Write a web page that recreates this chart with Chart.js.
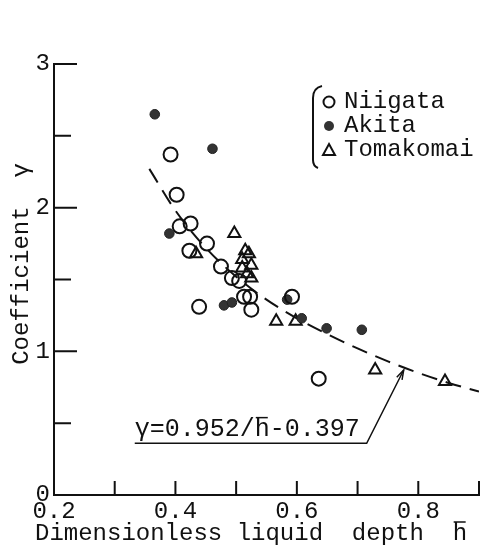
<!DOCTYPE html>
<html>
<head>
<meta charset="utf-8">
<script src="https://cdn.jsdelivr.net/npm/chart.js@4/dist/chart.umd.min.js"></script>
<style>
  html, body { margin: 0; padding: 0; background: #fff; }
</style>
</head>
<body>
<canvas id="chart" width="488" height="548"></canvas>
<script>
// --- data ---------------------------------------------------------------
const niigataH = [0.392, 0.402, 0.407, 0.425, 0.423, 0.452, 0.475, 0.493, 0.505, 0.439, 0.513, 0.523, 0.525, 0.592, 0.636];
const niigataG = [2.37, 2.09, 1.87, 1.89, 1.70, 1.75, 1.59, 1.51, 1.49, 1.31, 1.38, 1.38, 1.29, 1.38, 0.81];

const akitaH = [0.366, 0.461, 0.390, 0.480, 0.493, 0.584, 0.608, 0.649, 0.707];
const akitaG = [2.65, 2.41, 1.82, 1.32, 1.34, 1.36, 1.23, 1.16, 1.15];

const tomakomaiH = [0.497, 0.434, 0.515, 0.521, 0.510, 0.525, 0.510, 0.518, 0.525, 0.566, 0.598, 0.729, 0.844];
const tomakomaiG = [1.82, 1.68, 1.70, 1.68, 1.64, 1.60, 1.58, 1.54, 1.51, 1.21, 1.21, 0.87, 0.79];

// fitted curve  γ = 0.952/h - 0.397, as drawn in the figure
const fitH = [0.357, 0.40, 0.45, 0.50, 0.55, 0.60, 0.65, 0.70, 0.75, 0.80, 0.85, 0.90];
const fitG = [2.27, 1.98, 1.72, 1.52, 1.36, 1.23, 1.12, 1.02, 0.93, 0.85, 0.78, 0.72];

const xTickValues = [0.2, 0.3, 0.4, 0.5, 0.6, 0.7, 0.8, 0.9];
const xTickLabels = ['0.2', '', '0.4', '', '0.6', '', '0.8', ''];
const yTickValues = [0, 0.5, 1, 1.5, 2, 2.5, 3];
const yTickLabels = ['0', '', '1', '', '2', '', '3'];

const legendNames = ['Niigata', 'Akita', 'Tomakomai'];
const fitLabel = 'γ=0.952/h-0.397';
const xTitle = 'Dimensionless liquid  depth  h';
const yTitle = 'Coefficient  γ';

// where the equation note sits (data units)
const noteLeft = 0.333, noteRightH = 0.715, noteLineG = 0.36, noteTextG = 0.455;
const arrowTipH = 0.776, arrowTipG = 0.87;

const INK = '#111';
const FONT = '"Liberation Mono", "DejaVu Sans Mono", monospace';

const pts = (xs, ys) => xs.map((v, i) => ({ x: v, y: ys[i] }));

// ticks pointing into the plot
const inwardTicks = {
  id: 'inwardTicks',
  afterDraw(chart) {
    const { ctx, scales: { x, y } } = chart;
    ctx.save();
    ctx.strokeStyle = INK;
    ctx.lineWidth = 2;
    ctx.beginPath();
    xTickValues.slice(1).forEach((v) => {
      const px = x.getPixelForValue(v);
      ctx.moveTo(px, y.bottom);
      ctx.lineTo(px, y.bottom - 14);
    });
    yTickValues.slice(1).forEach((v) => {
      const py = y.getPixelForValue(v);
      const len = Number.isInteger(v) ? 23 : 17;
      ctx.moveTo(x.left, py);
      ctx.lineTo(x.left + len, py);
    });
    ctx.stroke();
    ctx.restore();
  },
};

// axis titles, legend, equation note
const extras = {
  id: 'extras',
  afterDraw(chart) {
    const { ctx, scales: { x, y } } = chart;
    ctx.save();
    ctx.fillStyle = INK;
    ctx.strokeStyle = INK;
    ctx.font = '24px ' + FONT;
    ctx.textBaseline = 'middle';

    // x title with overbar on h
    ctx.textAlign = 'left';
    const tx = 35, ty = 534;
    ctx.fillText(xTitle, tx, ty);
    const hx = tx + ctx.measureText(xTitle.slice(0, -1)).width;
    ctx.lineWidth = 1.5;
    ctx.beginPath();
    ctx.moveTo(hx + 1, ty - 12);
    ctx.lineTo(hx + 13, ty - 12);
    ctx.stroke();

    // y title
    ctx.save();
    ctx.translate(22, 264);
    ctx.rotate(-Math.PI / 2);
    ctx.textAlign = 'center';
    ctx.fillText(yTitle, 0, 0);
    ctx.restore();

    // legend bracket
    ctx.lineWidth = 2;
    ctx.beginPath();
    ctx.moveTo(322, 86);
    ctx.quadraticCurveTo(313, 88, 313, 98);
    ctx.lineTo(313, 160);
    ctx.quadraticCurveTo(313, 166, 318, 168);
    ctx.stroke();

    const rows = [102, 126, 150];
    // open circle
    ctx.lineWidth = 2;
    ctx.beginPath();
    ctx.arc(329, rows[0], 5.5, 0, Math.PI * 2);
    ctx.stroke();
    // filled circle
    ctx.fillStyle = '#333';
    ctx.beginPath();
    ctx.arc(329, rows[1], 5, 0, Math.PI * 2);
    ctx.fill();
    ctx.fillStyle = INK;
    // triangle
    ctx.beginPath();
    ctx.moveTo(329, rows[2] - 6);
    ctx.lineTo(335, rows[2] + 5);
    ctx.lineTo(323, rows[2] + 5);
    ctx.closePath();
    ctx.stroke();
    ctx.textAlign = 'left';
    legendNames.forEach((n, i) => ctx.fillText(n, 344, rows[i]));

    // equation note
    const nx = x.getPixelForValue(noteLeft);
    const nty = y.getPixelForValue(noteTextG);
    ctx.font = '25px ' + FONT;
    ctx.fillText(fitLabel, nx, nty);
    const ix = nx + ctx.measureText(fitLabel.slice(0, 8)).width;
    ctx.lineWidth = 1.5;
    ctx.beginPath();
    ctx.moveTo(ix + 1, nty - 12);
    ctx.lineTo(ix + 13, nty - 12);
    ctx.stroke();

    const ly = y.getPixelForValue(noteLineG);
    const rx = x.getPixelForValue(noteRightH);
    const ax = x.getPixelForValue(arrowTipH), ay = y.getPixelForValue(arrowTipG);
    ctx.lineWidth = 1.5;
    ctx.beginPath();
    ctx.moveTo(nx, ly);
    ctx.lineTo(rx, ly);
    ctx.lineTo(ax, ay);
    ctx.stroke();
    // arrow head
    const ang = Math.atan2(ay - ly, ax - rx);
    ctx.beginPath();
    ctx.moveTo(ax - 10 * Math.cos(ang - 0.3), ay - 10 * Math.sin(ang - 0.3));
    ctx.lineTo(ax, ay);
    ctx.lineTo(ax - 10 * Math.cos(ang + 0.3), ay - 10 * Math.sin(ang + 0.3));
    ctx.stroke();
    ctx.restore();
  },
};

new Chart(document.getElementById('chart'), {
  type: 'scatter',
  data: {
    datasets: [
      {
        label: legendNames[0],
        data: pts(niigataH, niigataG),
        pointStyle: 'circle',
        pointRadius: 7,
        borderWidth: 2,
        borderColor: INK,
        backgroundColor: 'rgba(0,0,0,0)',
      },
      {
        label: legendNames[1],
        data: pts(akitaH, akitaG),
        pointStyle: 'circle',
        pointRadius: 4.8,
        borderWidth: 1,
        borderColor: '#222',
        backgroundColor: '#333',
      },
      {
        label: legendNames[2],
        data: pts(tomakomaiH, tomakomaiG),
        pointStyle: 'triangle',
        pointRadius: 7,
        borderWidth: 2,
        borderColor: INK,
        backgroundColor: 'rgba(0,0,0,0)',
      },
      {
        label: 'fit',
        data: pts(fitH, fitG),
        showLine: true,
        borderColor: INK,
        borderWidth: 2,
        borderDash: [16, 9],
        pointRadius: 0,
        cubicInterpolationMode: 'monotone',
        fill: false,
      },
    ],
  },
  options: {
    responsive: false,
    animation: false,
    devicePixelRatio: 1,
    layout: { padding: { top: 64, right: 4, left: 0, bottom: 0 } },
    plugins: { legend: { display: false }, tooltip: { enabled: false } },
    scales: {
      x: {
        type: 'linear',
        min: 0.2,
        max: 0.9,
        afterBuildTicks: (s) => { s.ticks = xTickValues.map((v) => ({ value: v })); },
        afterFit: (s) => { s.height = 53; },
        grid: { display: true, drawOnChartArea: false, drawTicks: false },
        border: { display: true, color: INK, width: 2 },
        ticks: {
          padding: 2,
          maxRotation: 0,
          autoSkip: false,
          color: INK,
          font: { family: FONT, size: 24 },
          callback: (v) => xTickLabels[xTickValues.findIndex((t) => Math.abs(t - v) < 1e-6)] ?? '',
        },
      },
      y: {
        type: 'linear',
        min: 0,
        max: 3,
        afterBuildTicks: (s) => { s.ticks = yTickValues.map((v) => ({ value: v })); },
        afterFit: (s) => { s.width = 54; },
        grid: { display: true, drawOnChartArea: false, drawTicks: false },
        border: { display: true, color: INK, width: 2 },
        ticks: {
          padding: 4,
          autoSkip: false,
          color: INK,
          font: { family: FONT, size: 24 },
          callback: (v) => yTickLabels[yTickValues.findIndex((t) => Math.abs(t - v) < 1e-6)] ?? '',
        },
      },
    },
  },
  plugins: [inwardTicks, extras],
});
</script>
</body>
</html>
